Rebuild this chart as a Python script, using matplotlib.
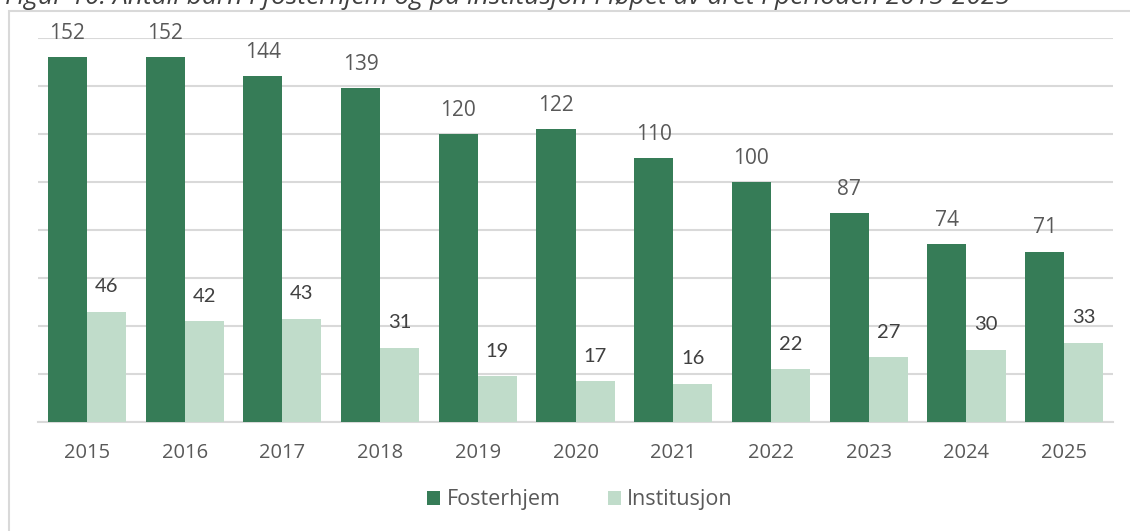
import numpy as np
import matplotlib.pyplot as plt
from matplotlib.patches import Rectangle

years = ["2015", "2016", "2017", "2018", "2019", "2020", "2021", "2022", "2023", "2024", "2025"]
fosterhjem = [152, 152, 144, 139, 120, 122, 110, 100, 87, 74, 71]
institusjon = [46, 42, 43, 31, 19, 17, 16, 22, 27, 30, 33]

dark = "#367C57"
light = "#C0DCCA"
grid = "#D9D9D9"
text_col = "#595959"

fig = plt.figure(figsize=(11.3, 5.31), dpi=100)
ax = fig.add_axes([38 / 1130, 1 - 422 / 531, (1113 - 38) / 1130, (422 - 38) / 531])

# ramme rundt diagrammet
fig.patches.append(Rectangle((8.5 / 1130, -0.2), 1.2, 1.2 + (531 - 10.5) / 531 - 1,
                             transform=fig.transFigure, fill=False, edgecolor=grid, lw=1.5))

# tittel, delvis avkuttet øverst som i originalen
fig.text(5 / 1130, 1 - 4 / 531,
         "Figur 10: Antall barn i fosterhjem og på institusjon i løpet av året i perioden 2015-2025",
         fontsize=19, style="italic", family="Open Sans", color="#404040", va="baseline")

x = np.arange(len(years))
w = 0.4
b1 = ax.bar(x - w / 2, fosterhjem, w, color=dark, label="Fosterhjem", zorder=3)
b2 = ax.bar(x + w / 2, institusjon, w, color=light, label="Institusjon", zorder=3)

for rect, v in zip(b1, fosterhjem):
    ax.annotate(str(v), (rect.get_x() + rect.get_width() / 2, v), xytext=(0, 17),
                textcoords="offset points", ha="center", va="center",
                fontsize=15, family="Open Sans", color=text_col)
for rect, v in zip(b2, institusjon):
    ax.annotate(str(v), (rect.get_x() + rect.get_width() / 2, v), xytext=(0, 18),
                textcoords="offset points", ha="center", va="center",
                fontsize=14.5, family="Lato", color="#404040")

ax.set_xlim(-0.5, len(years) - 0.5)
ax.set_ylim(0, 160)
ax.set_yticks(range(0, 161, 20))
ax.yaxis.grid(True, color=grid, lw=1.5, zorder=0)
ax.set_yticklabels([])
ax.tick_params(axis="y", length=0)
ax.set_xticks(x)
ax.set_xticklabels(years, fontsize=14.5, family="Open Sans", color=text_col)
ax.tick_params(axis="x", length=0, pad=15)
for s in ["top", "right", "left"]:
    ax.spines[s].set_visible(False)
ax.spines["bottom"].set_color(grid)
ax.spines["bottom"].set_linewidth(1.5)

fig.legend(loc="center", bbox_to_anchor=(580 / 1130, 1 - 500 / 531), ncol=2, frameon=False,
           prop={"family": "Open Sans", "size": 15.5}, labelcolor=text_col,
           handlelength=0.6, handleheight=0.6, handletextpad=0.3, columnspacing=2.2)

fig.savefig("out.png", dpi=100)
